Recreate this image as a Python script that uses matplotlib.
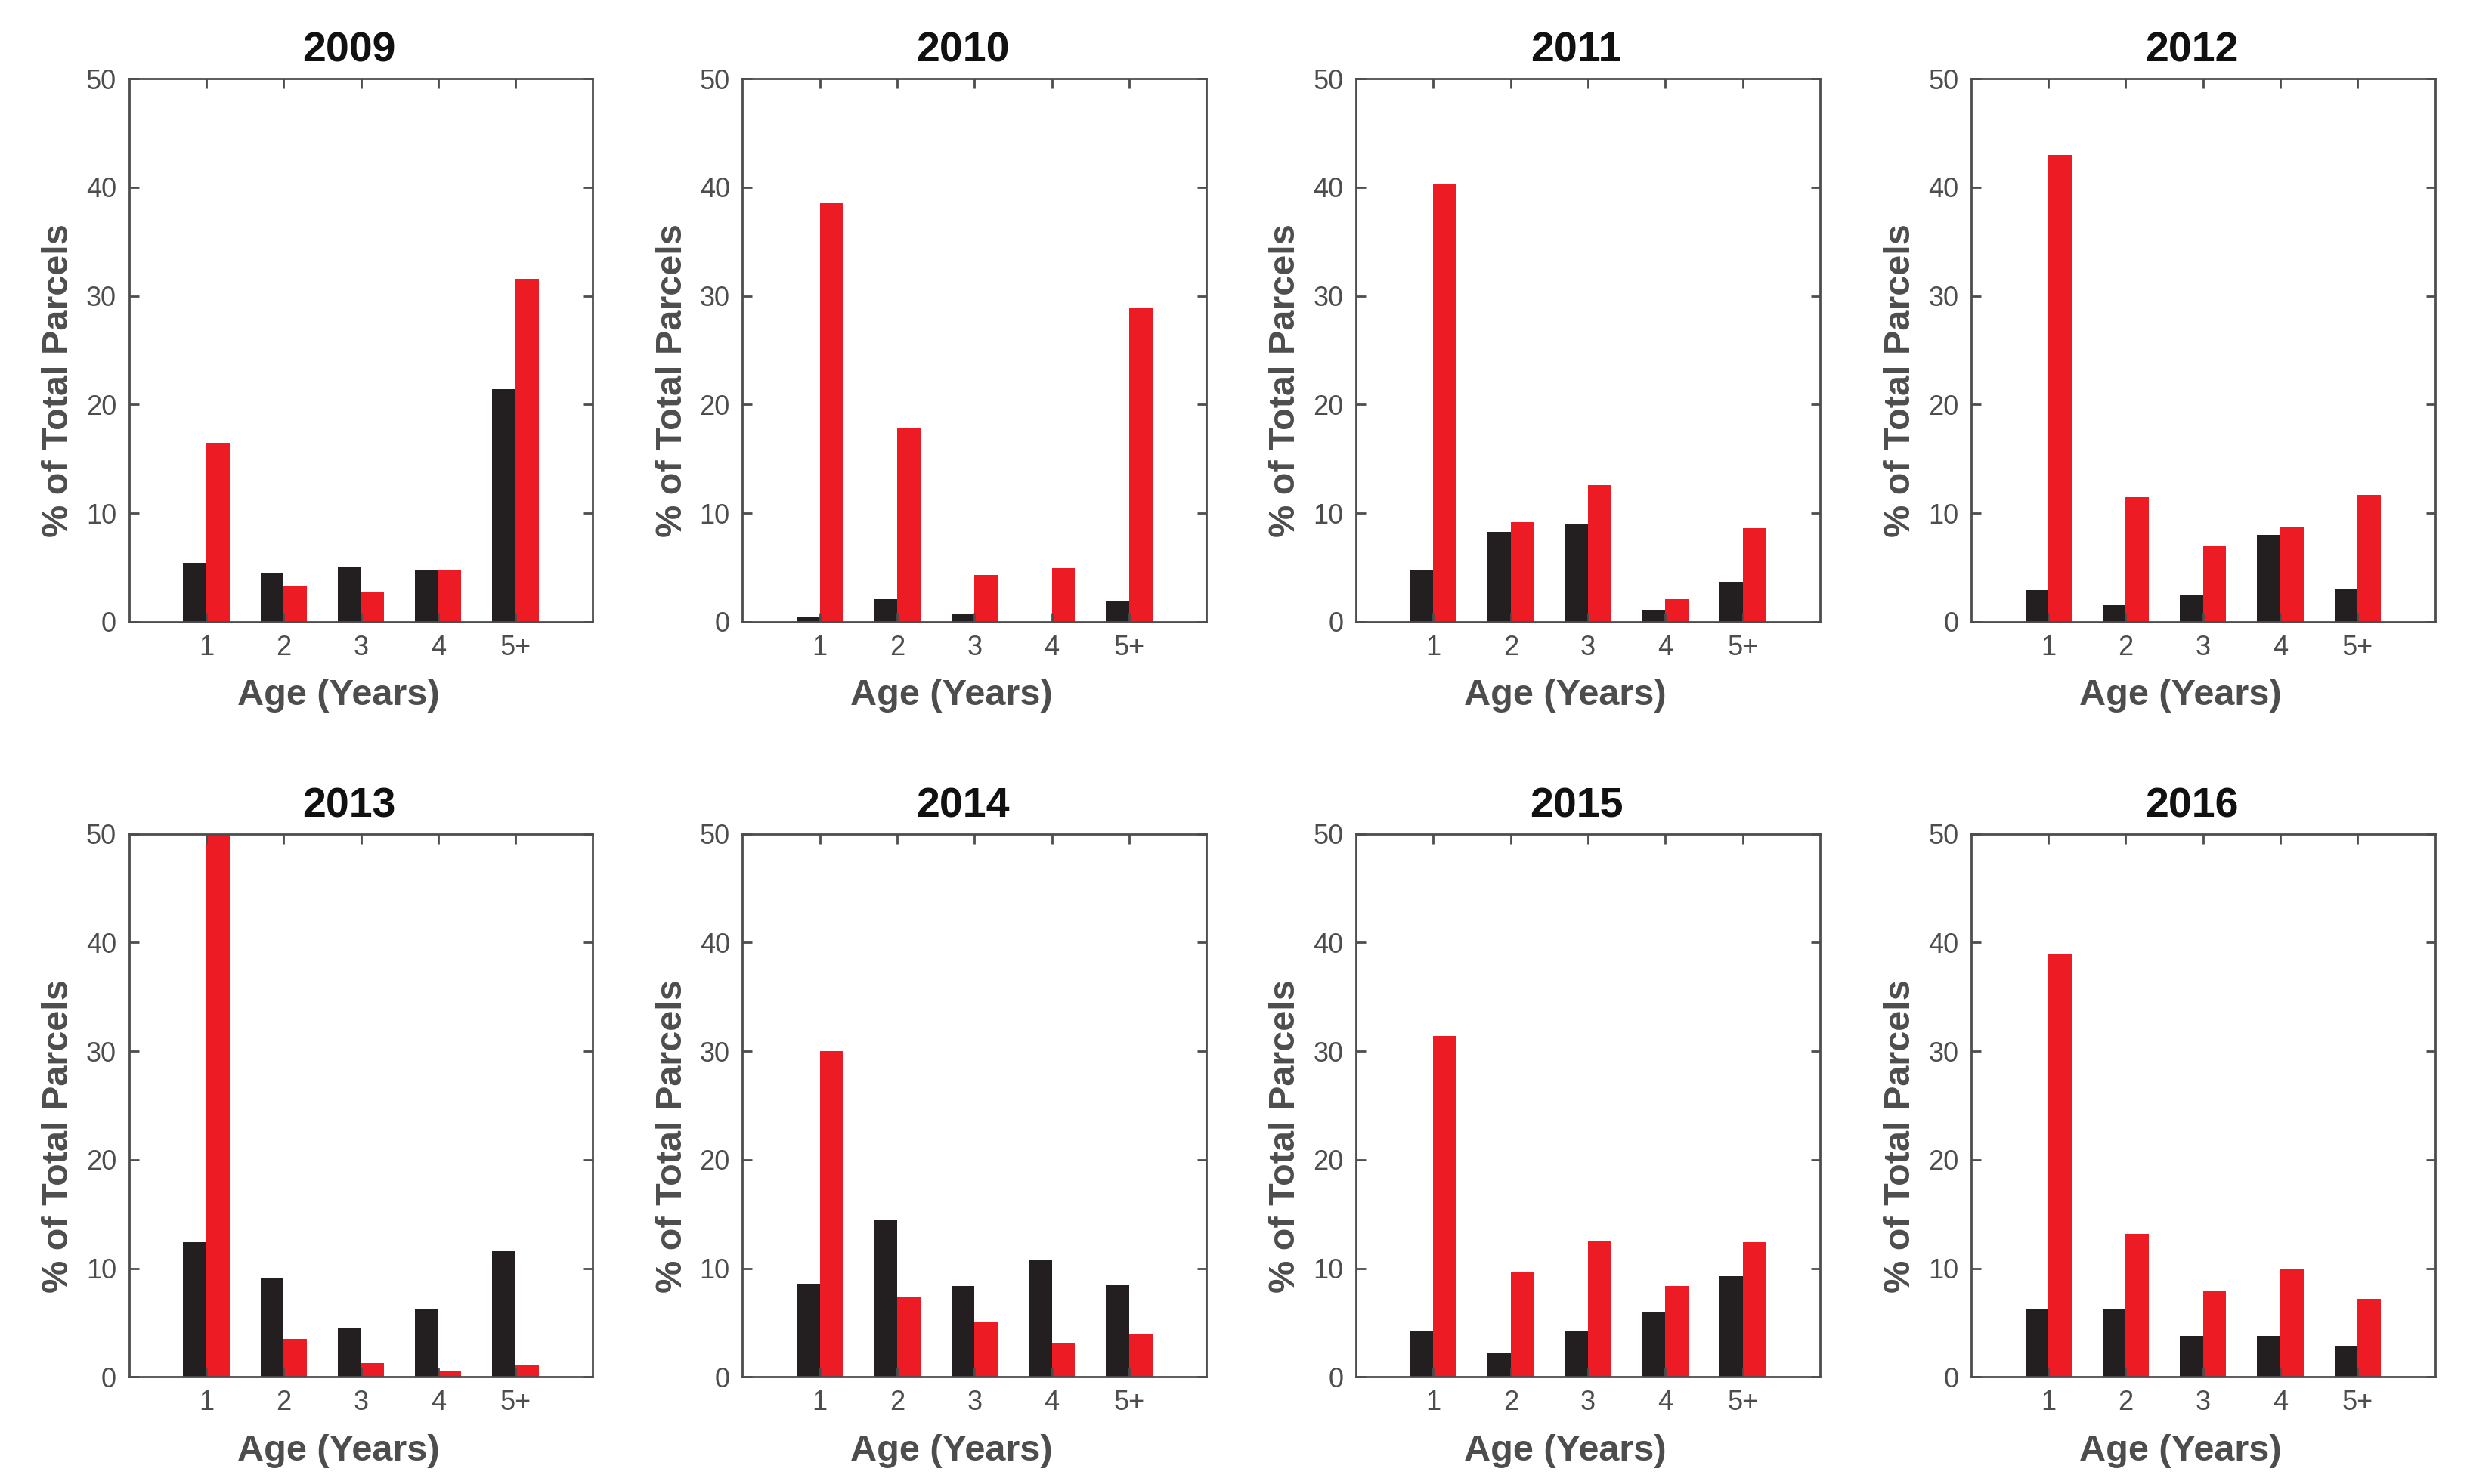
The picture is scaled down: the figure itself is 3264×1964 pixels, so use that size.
import matplotlib
matplotlib.use("Agg")
import matplotlib.pyplot as plt
import numpy as np

plt.rcParams['font.family'] = ['Liberation Sans', 'DejaVu Sans']

years = ["2009", "2010", "2011", "2012", "2013", "2014", "2015", "2016"]
age_labels = ["1", "2", "3", "4", "5+"]

black_2009 = [5.4, 4.5, 5.0, 4.7, 21.4]
red_2009 = [16.5, 3.3, 2.8, 4.7, 31.6]
black_2010 = [0.5, 2.1, 0.7, 0.0, 1.9]
red_2010 = [38.6, 17.9, 4.3, 4.9, 28.9]
black_2011 = [4.7, 8.3, 9.0, 1.1, 3.7]
red_2011 = [40.3, 9.2, 12.6, 2.1, 8.6]
black_2012 = [2.9, 1.5, 2.5, 8.0, 3.0]
red_2012 = [43.0, 11.5, 7.0, 8.7, 11.7]
black_2013 = [12.4, 9.1, 4.5, 6.2, 11.6]
red_2013 = [50.0, 3.5, 1.3, 0.5, 1.1]
black_2014 = [8.6, 14.5, 8.4, 10.8, 8.5]
red_2014 = [30.0, 7.3, 5.1, 3.1, 4.0]
black_2015 = [4.3, 2.2, 4.3, 6.0, 9.3]
red_2015 = [31.4, 9.6, 12.5, 8.4, 12.4]
black_2016 = [6.3, 6.2, 3.8, 3.8, 2.8]
red_2016 = [39.0, 13.2, 7.9, 10.0, 7.2]

black_series = [black_2009, black_2010, black_2011, black_2012,
                black_2013, black_2014, black_2015, black_2016]
red_series = [red_2009, red_2010, red_2011, red_2012,
              red_2013, red_2014, red_2015, red_2016]

BLACK = "#231F20"
RED = "#ED1C24"
GRAY = "#4D4D4D"

fig = plt.figure(figsize=(32.64, 19.64), dpi=100)

lefts = [0.0523, 0.301, 0.5497, 0.799]
width = 0.188
bottoms = [0.581, 0.0721]
height = 0.366

x = np.arange(1, 6)
bw = 0.30
for i, yr in enumerate(years):
    r, c = divmod(i, 4)
    ax = fig.add_axes([lefts[c], bottoms[r], width, height])
    ax.bar(x - bw / 2, black_series[i], width=bw, color=BLACK, linewidth=0)
    ax.bar(x + bw / 2, red_series[i], width=bw, color=RED, linewidth=0)
    ax.set_xlim(0, 6)
    ax.set_ylim(0, 50)
    ax.set_xticks(x)
    ax.set_xticklabels(age_labels)
    ax.set_yticks([0, 10, 20, 30, 40, 50])
    ax.tick_params(direction='in', length=9, width=2, colors=GRAY,
                   labelsize=26, top=True, right=True, pad=12)
    ax.tick_params(axis='y', pad=12)
    for s in ax.spines.values():
        s.set_color(GRAY)
        s.set_linewidth(2)
    ax.set_title(yr, fontsize=40, fontweight='bold', color='#111111', pad=16)
    ax.title.set_x(0.475)
    ax.set_xlabel("Age (Years)", fontsize=35, fontweight='bold', color=GRAY, labelpad=17)
    ax.xaxis.label.set_x(0.451)
    ax.set_ylabel("% of Total Parcels", fontsize=35, fontweight='bold', color=GRAY, labelpad=10)
    ax.yaxis.label.set_y(0.444)

fig.savefig("out.png", dpi=100, facecolor='white')
